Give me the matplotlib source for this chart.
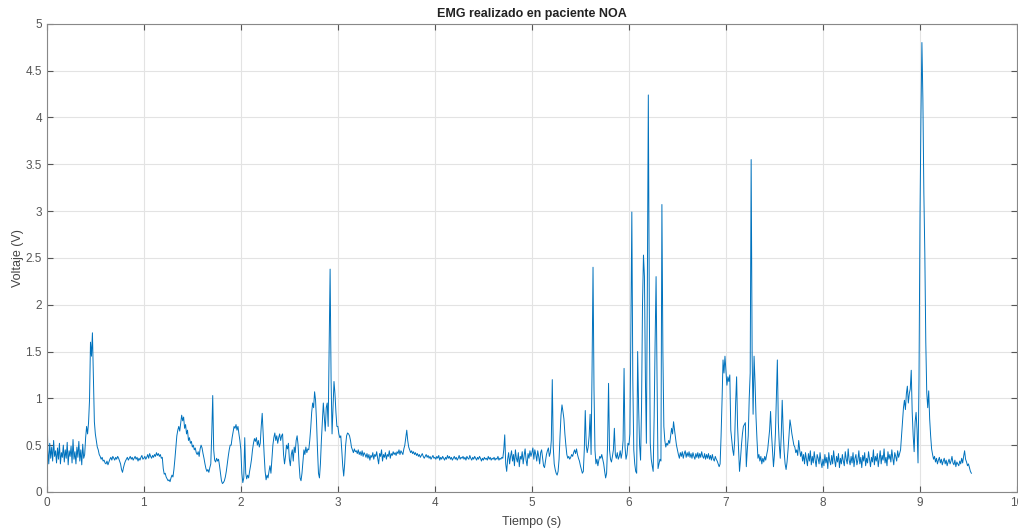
import numpy as np
import matplotlib.pyplot as plt

plt.rcParams['font.family'] = ['Liberation Sans', 'DejaVu Sans']

# EMG signal, sampled every 0.01 s, one list per second of recording
dt = 0.01
s0 = [1.00, 0.45, 0.30, 0.52, 0.36, 0.48, 0.33, 0.55, 0.38, 0.44,
      0.31, 0.47, 0.35, 0.52, 0.30, 0.42, 0.37, 0.50, 0.32, 0.45,
      0.36, 0.53, 0.29, 0.44, 0.38, 0.49, 0.31, 0.56, 0.35, 0.43,
      0.30, 0.48, 0.37, 0.54, 0.33, 0.45, 0.29, 0.51, 0.36, 0.40,
      0.58, 0.70, 0.62, 0.74, 0.98, 1.60, 1.45, 1.70, 1.20, 0.75,
      0.62, 0.55, 0.48, 0.45, 0.40, 0.38, 0.35, 0.37, 0.33, 0.34,
      0.31, 0.30, 0.33, 0.29, 0.32, 0.35, 0.37, 0.34, 0.38, 0.36,
      0.34, 0.37, 0.35, 0.38, 0.36, 0.33, 0.30, 0.24, 0.21, 0.26,
      0.30, 0.33, 0.35, 0.37, 0.34, 0.36, 0.38, 0.35, 0.37, 0.34,
      0.36, 0.38, 0.35, 0.37, 0.33, 0.36, 0.34, 0.37, 0.39, 0.35]
s1 = [0.36, 0.38, 0.35, 0.37, 0.40, 0.36, 0.41, 0.38, 0.36, 0.39,
      0.37, 0.40, 0.38, 0.42, 0.39, 0.41, 0.38, 0.40, 0.36, 0.37,
      0.25, 0.19, 0.20, 0.16, 0.14, 0.12, 0.13, 0.11, 0.15, 0.18,
      0.16, 0.24, 0.35, 0.48, 0.60, 0.66, 0.70, 0.65, 0.74, 0.82,
      0.76, 0.80, 0.68, 0.72, 0.62, 0.66, 0.55, 0.58, 0.52, 0.54,
      0.48, 0.50, 0.45, 0.47, 0.42, 0.40, 0.43, 0.38, 0.46, 0.50,
      0.47, 0.41, 0.36, 0.30, 0.25, 0.22, 0.24, 0.21, 0.26, 0.30,
      0.62, 1.03, 0.45, 0.34, 0.32, 0.36, 0.33, 0.35, 0.28, 0.20,
      0.12, 0.09, 0.10, 0.12, 0.16, 0.22, 0.30, 0.38, 0.45, 0.50,
      0.50, 0.58, 0.64, 0.70, 0.68, 0.72, 0.66, 0.70, 0.62, 0.55]
s2 = [0.45, 0.20, 0.10, 0.15, 0.58, 0.20, 0.14, 0.18, 0.15, 0.22,
      0.28, 0.35, 0.45, 0.52, 0.57, 0.54, 0.58, 0.50, 0.55, 0.48,
      0.52, 0.70, 0.84, 0.62, 0.40, 0.22, 0.13, 0.18, 0.15, 0.22,
      0.28, 0.20, 0.35, 0.50, 0.58, 0.63, 0.55, 0.60, 0.52, 0.58,
      0.62, 0.55, 0.60, 0.62, 0.40, 0.30, 0.38, 0.50, 0.46, 0.52,
      0.35, 0.28, 0.40, 0.45, 0.33, 0.48, 0.42, 0.55, 0.60, 0.50,
      0.30, 0.15, 0.12, 0.20, 0.32, 0.45, 0.40, 0.48, 0.42, 0.46,
      0.45, 0.55, 0.68, 0.85, 0.95, 0.90, 1.07, 0.98, 0.75, 0.45,
      0.20, 0.15, 0.30, 0.55, 0.75, 0.95, 0.80, 0.65, 0.90, 0.95,
      0.70, 1.50, 2.38, 1.20, 0.62, 0.90, 1.18, 1.05, 0.85, 0.70]
s3 = [0.70, 0.62, 0.58, 0.60, 0.45, 0.28, 0.17, 0.30, 0.50, 0.60,
      0.63, 0.62, 0.60, 0.55, 0.48, 0.45, 0.42, 0.46, 0.43, 0.44,
      0.41, 0.45, 0.40, 0.43, 0.39, 0.44, 0.38, 0.42, 0.40, 0.37,
      0.41, 0.36, 0.40, 0.34, 0.39, 0.37, 0.42, 0.35, 0.40, 0.38,
      0.43, 0.36, 0.30, 0.41, 0.38, 0.45, 0.33, 0.40, 0.37, 0.42,
      0.35, 0.40, 0.38, 0.44, 0.36, 0.41, 0.39, 0.43, 0.40, 0.42,
      0.39, 0.43, 0.41, 0.45, 0.40, 0.44, 0.42, 0.40, 0.46, 0.50,
      0.58, 0.66, 0.55, 0.48, 0.45, 0.42, 0.44, 0.41, 0.43, 0.40,
      0.42, 0.39, 0.41, 0.38, 0.40, 0.37, 0.39, 0.41, 0.38, 0.36,
      0.38, 0.40, 0.37, 0.39, 0.36, 0.38, 0.35, 0.37, 0.39, 0.36]
s4 = [0.37, 0.35, 0.38, 0.36, 0.39, 0.34, 0.37, 0.35, 0.38, 0.36,
      0.34, 0.37, 0.35, 0.39, 0.36, 0.38, 0.35, 0.37, 0.34, 0.36,
      0.38, 0.35, 0.37, 0.34, 0.36, 0.39, 0.35, 0.37, 0.36, 0.38,
      0.35, 0.37, 0.34, 0.38, 0.36, 0.35, 0.39, 0.36, 0.34, 0.37,
      0.35, 0.38, 0.36, 0.34, 0.37, 0.35, 0.38, 0.36, 0.33, 0.36,
      0.34, 0.37, 0.35, 0.36, 0.34, 0.38, 0.35, 0.37, 0.34, 0.36,
      0.35, 0.37, 0.34, 0.36, 0.35, 0.38, 0.34, 0.36, 0.35, 0.37,
      0.36, 0.45, 0.61, 0.30, 0.22, 0.35, 0.42, 0.30, 0.38, 0.44,
      0.33, 0.40, 0.28, 0.45, 0.36, 0.32, 0.42, 0.27, 0.38, 0.35,
      0.43, 0.30, 0.39, 0.46, 0.34, 0.28, 0.41, 0.36, 0.44, 0.38]
s5 = [0.42, 0.47, 0.35, 0.45, 0.40, 0.33, 0.44, 0.38, 0.30, 0.42,
      0.45, 0.36, 0.28, 0.26, 0.33, 0.40, 0.44, 0.47, 0.38, 0.42,
      0.55, 1.20, 0.48, 0.30, 0.24, 0.20, 0.18, 0.22, 0.35, 0.60,
      0.82, 0.93, 0.86, 0.78, 0.62, 0.50, 0.40, 0.36, 0.38, 0.35,
      0.37, 0.40, 0.38, 0.42, 0.45, 0.41, 0.46, 0.40, 0.36, 0.33,
      0.28, 0.24, 0.20, 0.22, 0.45, 0.87, 0.50, 0.42, 0.48, 0.60,
      0.83, 0.40, 1.30, 2.40, 1.10, 0.45, 0.30, 0.35, 0.28, 0.34,
      0.38, 0.36, 0.40, 0.35, 0.30, 0.22, 0.15, 0.20, 0.50, 1.16,
      0.45, 0.35, 0.32, 0.38, 0.45, 0.68, 0.40, 0.36, 0.42, 0.35,
      0.38, 0.44, 0.36, 0.42, 0.55, 1.32, 0.48, 0.35, 0.40, 0.52]
s6 = [0.50, 0.62, 1.70, 2.99, 1.20, 0.45, 0.30, 0.22, 0.20, 1.50,
      0.90, 0.50, 0.34, 0.90, 2.00, 2.53, 2.30, 1.20, 0.52, 2.20,
      4.24, 2.00, 0.52, 0.35, 0.28, 0.22, 0.80, 1.60, 2.30, 1.20,
      0.25, 0.30, 0.35, 0.33, 3.07, 1.50, 0.70, 0.55, 0.48, 0.52,
      0.50, 0.55, 0.52, 0.60, 0.68, 0.62, 0.75, 0.66, 0.58, 0.50,
      0.45, 0.40, 0.36, 0.42, 0.38, 0.43, 0.36, 0.41, 0.44, 0.37,
      0.42, 0.38, 0.43, 0.37, 0.41, 0.36, 0.42, 0.38, 0.35, 0.41,
      0.37, 0.42, 0.36, 0.41, 0.37, 0.43, 0.38, 0.36, 0.41, 0.35,
      0.40, 0.36, 0.41, 0.35, 0.39, 0.34, 0.40, 0.35, 0.33, 0.38,
      0.35, 0.33, 0.30, 0.27, 0.30, 0.60, 0.98, 1.41, 1.27, 1.45]
s7 = [1.30, 1.14, 1.23, 1.18, 1.25, 0.66, 0.56, 0.45, 0.39, 0.55,
      0.95, 1.23, 0.70, 0.45, 0.22, 0.35, 0.50, 0.62, 0.70, 0.72,
      0.74, 0.27, 0.45, 0.60, 1.00, 1.27, 3.55, 1.45, 0.83, 1.45,
      1.17, 0.80, 0.56, 0.36, 0.40, 0.33, 0.38, 0.30, 0.36, 0.32,
      0.38, 0.34, 0.40, 0.45, 0.55, 0.66, 0.86, 0.62, 0.45, 0.27,
      0.40, 0.62, 1.00, 1.41, 0.74, 0.50, 0.36, 0.60, 0.98, 0.66,
      0.43, 0.30, 0.24, 0.32, 0.45, 0.60, 0.77, 0.70, 0.62, 0.56,
      0.50, 0.48, 0.42, 0.45, 0.39, 0.55, 0.45, 0.38, 0.43, 0.33,
      0.40, 0.30, 0.42, 0.35, 0.28, 0.41, 0.33, 0.44, 0.29, 0.38,
      0.31, 0.43, 0.34, 0.27, 0.40, 0.36, 0.30, 0.42, 0.32, 0.26]
s8 = [0.35, 0.28, 0.40, 0.31, 0.37, 0.25, 0.42, 0.33, 0.29, 0.39,
      0.30, 0.44, 0.34, 0.27, 0.38, 0.32, 0.41, 0.26, 0.36, 0.30,
      0.40, 0.33, 0.28, 0.43, 0.35, 0.30, 0.46, 0.34, 0.29, 0.38,
      0.31, 0.42, 0.27, 0.36, 0.40, 0.29, 0.34, 0.44, 0.30, 0.37,
      0.26, 0.39, 0.33, 0.42, 0.28, 0.36, 0.31, 0.43, 0.35, 0.27,
      0.37, 0.32, 0.45, 0.29, 0.38, 0.33, 0.41, 0.27, 0.36, 0.44,
      0.30, 0.39, 0.34, 0.46, 0.31, 0.37, 0.28, 0.43, 0.35, 0.40,
      0.32, 0.45, 0.36, 0.29, 0.42, 0.38, 0.33, 0.44, 0.37, 0.41,
      0.45, 0.60, 0.75, 0.90, 0.98, 0.88, 1.05, 1.13, 0.95, 1.05,
      1.10, 1.30, 0.85, 0.60, 0.43, 0.75, 0.85, 0.66, 0.31, 1.20]
s9 = [2.90, 4.00, 4.80, 4.20, 3.20, 2.55, 1.60, 1.06, 0.90, 1.08,
      0.78, 0.60, 0.46, 0.40, 0.35, 0.38, 0.32, 0.36, 0.30, 0.34,
      0.37, 0.31, 0.35, 0.29, 0.33, 0.36, 0.30, 0.34, 0.28, 0.32,
      0.35, 0.30, 0.33, 0.38, 0.31, 0.29, 0.34, 0.27, 0.32, 0.30,
      0.28, 0.33, 0.30, 0.36, 0.31, 0.38, 0.44, 0.35, 0.32, 0.28,
      0.30, 0.26, 0.22, 0.20]

voltaje = np.array(s0 + s1 + s2 + s3 + s4 + s5 + s6 + s7 + s8 + s9)
tiempo = np.arange(len(voltaje)) * dt

fig = plt.figure(figsize=(10.18, 5.29), dpi=100)
ax = fig.add_axes([0.046, 0.070, 0.953, 0.885])

ax.plot(tiempo, voltaje, color='#0072BD', linewidth=0.7)

ax.set_xlim(0, 10)
ax.set_ylim(0, 5)
ax.set_xticks(np.arange(0, 11, 1))
ax.set_yticks(np.arange(0, 5.5, 0.5))
ax.set_yticklabels(['0', '0.5', '1', '1.5', '2', '2.5', '3', '3.5', '4', '4.5', '5'])
ax.grid(True, color='#e3e3e3', linewidth=0.8)
ax.set_axisbelow(True)
ax.tick_params(direction='in', length=4, top=True, right=True,
               colors='#555555', labelsize=8.5)
for sp in ax.spines.values():
    sp.set_color('#888888')
    sp.set_linewidth(0.8)

ax.set_title('EMG realizado en paciente NOA', fontsize=9, fontweight='bold',
             color='#222222', pad=5)
ax.set_xlabel('Tiempo (s)', fontsize=9, color='#444444', labelpad=5)
ax.set_ylabel('Voltaje (V)', fontsize=9, color='#444444', labelpad=1)

fig.savefig('out.png', dpi=100)
